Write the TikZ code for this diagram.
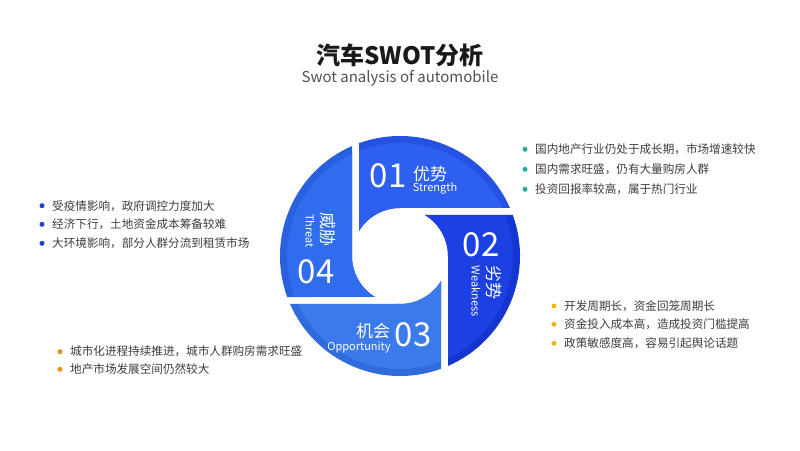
\documentclass[tikz,border=0pt]{standalone}
\usepackage{fontspec}
\setmainfont{Noto Sans CJK SC}
\usetikzlibrary{positioning}

\definecolor{segS}{HTML}{2D5FF0}
\definecolor{rimS}{HTML}{2552E2}
\definecolor{segW}{HTML}{1C40E2}
\definecolor{rimW}{HTML}{1535D0}
\definecolor{segO}{HTML}{3B7AEA}
\definecolor{rimO}{HTML}{306BDD}
\definecolor{segT}{HTML}{2F6CEE}
\definecolor{rimT}{HTML}{2860E0}
\definecolor{dotS}{HTML}{1FB0A0}
\definecolor{dotT}{HTML}{1E3FCC}
\definecolor{dotW}{HTML}{F2B705}
\definecolor{dotO}{HTML}{EE8A1E}
\definecolor{txtgray}{HTML}{3C3C3C}

\begin{document}
\begin{tikzpicture}[x=1pt, y=1pt,
	every node/.style={inner sep=0pt, text=txtgray, font=\fontsize{11.6}{14}\selectfont},
	bigno/.style={text=white, font=\fontsize{33}{36}\selectfont},
	cnlab/.style={text=white, font=\fontsize{17}{20}\selectfont},
	enlab/.style={text=white, font=\fontsize{11}{13}\selectfont},
	dot/.style={circle, minimum size=5pt}]

	\useasboundingbox (0,0) rectangle (800,450);

	% ============ TITLE ============

	\node[text=black!90, font=\fontsize{24}{28}\selectfont\bfseries] (title) at (400,395) {汽车SWOT分析};
	\node[text=black!68, font=\fontsize{15}{18}\selectfont] (subtitle) at (400,372) {Swot analysis of automobile};

	% ============ RING: FOUR SEGMENTS ============

	\foreach \ang/\segc/\rimc in {0/segS/rimS, -90/segW/rimW, -180/segO/rimO, -270/segT/rimT} {
		\begin{scope}[shift={(400,194)}, rotate=\ang]
			\fill[\rimc] (148.67:48) -- (109.98:120) arc[start angle=109.98, end angle=23.58, radius=120]
				-- (0,48) arc[start angle=90, end angle=148.67, radius=48] -- cycle;
			\fill[\segc] (148.67:48) -- (111.27:113) arc[start angle=111.27, end angle=25.14, radius=113]
				-- (0,48) arc[start angle=90, end angle=148.67, radius=48] -- cycle;
		\end{scope}
	}

	% Segment labels
	\node[bigno] (S_num) at (388,274) {01};
	\node[cnlab] (S_cn) at (430,276) {优势};
	\node[enlab] (S_en) at (435,262) {Strength};

	\node[bigno] (W_num) at (481,205) {02};
	\node[cnlab, rotate=-90] (W_cn) at (494,167) {劣势};
	\node[enlab, rotate=-90] (W_en) at (476,159) {Weakness};

	\node[bigno] (O_num) at (413,115) {03};
	\node[cnlab] (O_cn) at (373,119) {机会};
	\node[enlab] (O_en) at (359,102) {Opportunity};

	\node[bigno] (T_num) at (316,178) {04};
	\node[cnlab, rotate=-90] (T_cn) at (328,220) {威胁};
	\node[enlab, rotate=-90] (T_en) at (310,219) {Threat};

	% ============ BULLET LISTS ============

	% Strength (top right)
	\foreach \i/\y/\txt in {1/300.7/国内地产行业仍处于成长期，市场增速较快,
		2/280.7/国内需求旺盛，仍有大量购房人群,
		3/260.7/投资回报率较高，属于热门行业} {
		\node[dot, fill=dotS] (S_b\i) at (525,\y) {};
		\node[anchor=west] (S_t\i) at (535,\y) {\txt};
	}

	% Threat (top left)
	\foreach \i/\y/\txt in {1/244.3/受疫情影响，政府调控力度加大,
		2/225.7/经济下行，土地资金成本筹备较难,
		3/206.7/大环境影响，部分人群分流到租赁市场} {
		\node[dot, fill=dotT] (T_b\i) at (42,\y) {};
		\node[anchor=west] (T_t\i) at (52,\y) {\txt};
	}

	% Weakness (bottom right)
	\foreach \i/\y/\txt in {1/144/开发周期长，资金回笼周期长,
		2/125.7/资金投入成本高，造成投资门槛提高,
		3/106.7/政策敏感度高，容易引起舆论话题} {
		\node[dot, fill=dotW] (W_b\i) at (554,\y) {};
		\node[anchor=west] (W_t\i) at (564,\y) {\txt};
	}

	% Opportunity (bottom left)
	\foreach \i/\y/\txt in {1/98.3/城市化进程持续推进，城市人群购房需求旺盛,
		2/80.7/地产市场发展空间仍然较大} {
		\node[dot, fill=dotO] (O_b\i) at (60,\y) {};
		\node[anchor=west] (O_t\i) at (70,\y) {\txt};
	}

\end{tikzpicture}
\end{document}
